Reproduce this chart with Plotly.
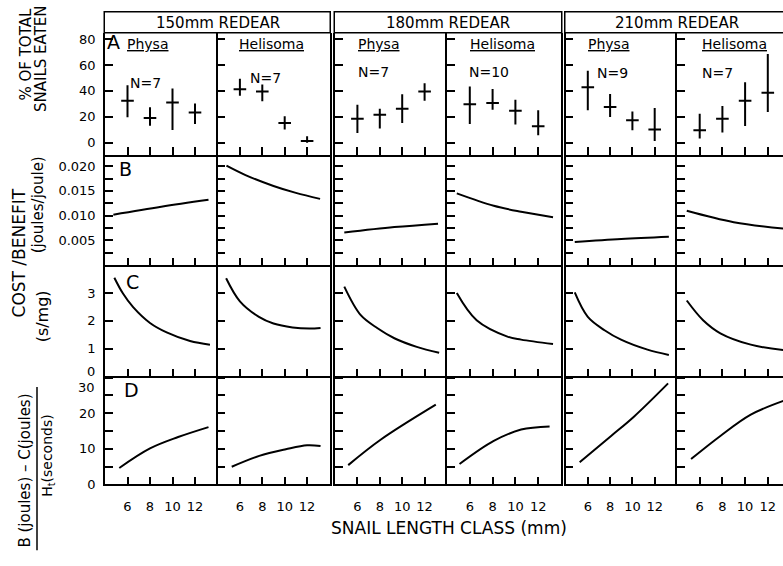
import plotly.graph_objects as go

# ---------------- data ----------------
size_ticks = [6, 8, 10, 12]
group_titles = ["150mm REDEAR", "180mm REDEAR", "210mm REDEAR"]
species_names = ["Physa", "Helisoma", "Physa", "Helisoma", "Physa", "Helisoma"]
n_labels = ["N=7", "N=7", "N=7", "N=10", "N=9", "N=7"]
panel_letters = ["A", "B", "C", "D"]

# Row A: % of total snails eaten (mean, upper, lower) at 6, 8, 10, 12 mm
eaten_x = [6, 8, 10, 12]
eaten_mean_physa150 = [32.4, 19.1, 31.1, 23.4]
eaten_hi_physa150 = [44.3, 27.3, 41.8, 30.3]
eaten_lo_physa150 = [19.6, 13.2, 9.9, 14.5]
eaten_mean_heli150 = [41.3, 39.5, 15.3, 1.3]
eaten_hi_heli150 = [49.4, 45.0, 20.4, 5.0]
eaten_lo_heli150 = [36.2, 32.0, 10.2, 0.0]
eaten_mean_physa180 = [18.6, 21.7, 26.2, 39.5]
eaten_hi_physa180 = [29.3, 26.2, 37.5, 45.9]
eaten_lo_physa180 = [7.6, 11.0, 15.3, 32.4]
eaten_mean_heli180 = [29.8, 30.6, 24.7, 12.7]
eaten_hi_heli180 = [43.3, 41.5, 33.1, 25.0]
eaten_lo_heli180 = [14.5, 25.5, 14.0, 5.9]
eaten_mean_physa210 = [42.8, 27.5, 17.3, 10.2]
eaten_hi_physa210 = [55.5, 37.7, 24.2, 26.8]
eaten_lo_physa210 = [25.0, 19.9, 9.7, 1.3]
eaten_mean_heli210 = [9.7, 18.6, 32.4, 38.5]
eaten_hi_heli210 = [22.4, 28.3, 46.6, 68.5]
eaten_lo_heli210 = [3.3, 7.9, 13.0, 23.7]

# Row B: cost/benefit (joules/joule)
cb_x_physa150 = [4.74, 9.0, 13.2]
cb_y_physa150 = [0.0102, 0.0118, 0.0132]
cb_x_heli150 = [4.8, 6.5, 9.0, 11.0, 13.16]
cb_y_heli150 = [0.0201, 0.0182, 0.0160, 0.0146, 0.0134]
cb_x_physa180 = [4.83, 9.3, 13.2]
cb_y_physa180 = [0.0066, 0.0077, 0.0084]
cb_x_heli180 = [4.86, 8.1, 10.5, 13.3]
cb_y_heli180 = [0.0145, 0.0120, 0.0108, 0.0097]
cb_x_physa210 = [4.83, 9.0, 13.27]
cb_y_physa210 = [0.0047, 0.0053, 0.00575]
cb_x_heli210 = [4.86, 9.0, 13.4]
cb_y_heli210 = [0.0110, 0.0087, 0.0074]

# Row C: cost (s/mg)
cost_x_physa150 = [4.83, 5.6, 6.5, 8.0, 9.48, 11.56, 13.33]
cost_y_physa150 = [3.55, 2.98, 2.49, 1.92, 1.58, 1.27, 1.14]
cost_x_heli150 = [4.77, 6.0, 7.7, 9.0, 10.7, 12.2, 13.2]
cost_y_heli150 = [3.53, 2.70, 2.14, 1.90, 1.76, 1.72, 1.74]
cost_x_physa180 = [4.83, 6.3, 7.8, 9.3, 11.3, 13.3]
cost_y_physa180 = [3.23, 2.20, 1.73, 1.37, 1.06, 0.85]
cost_x_heli180 = [4.86, 6.6, 9.3, 10.5, 13.3]
cost_y_heli180 = [3.00, 2.02, 1.43, 1.32, 1.16]
cost_x_physa210 = [4.83, 6.0, 7.5, 8.98, 11.35, 13.27]
cost_y_physa210 = [3.02, 2.14, 1.66, 1.32, 0.96, 0.77]
cost_x_heli210 = [4.86, 6.3, 7.82, 10.5, 13.4]
cost_y_heli210 = [2.73, 2.02, 1.55, 1.14, 0.94]

# Row D: (B - C) / Ht
net_x_physa150 = [5.27, 8.0, 10.5, 13.2]
net_y_physa150 = [4.6, 10.1, 13.3, 16.1]
net_x_heli150 = [5.27, 7.73, 10.1, 12.0, 13.2]
net_y_heli150 = [4.95, 8.0, 9.86, 11.0, 10.8]
net_x_physa180 = [5.18, 8.1, 13.0]
net_y_physa180 = [5.4, 12.6, 22.4]
net_x_heli180 = [5.1, 8.1, 10.5, 13.0]
net_y_heli180 = [5.7, 12.2, 15.4, 16.3]
net_x_physa210 = [5.27, 8.09, 10.16, 13.2]
net_y_physa210 = [6.2, 13.6, 19.1, 28.4]
net_x_heli210 = [5.24, 7.82, 10.5, 13.4]
net_y_heli210 = [7.1, 13.6, 19.6, 23.5]

eaten_panels = [
    (eaten_mean_physa150, eaten_hi_physa150, eaten_lo_physa150),
    (eaten_mean_heli150, eaten_hi_heli150, eaten_lo_heli150),
    (eaten_mean_physa180, eaten_hi_physa180, eaten_lo_physa180),
    (eaten_mean_heli180, eaten_hi_heli180, eaten_lo_heli180),
    (eaten_mean_physa210, eaten_hi_physa210, eaten_lo_physa210),
    (eaten_mean_heli210, eaten_hi_heli210, eaten_lo_heli210),
]
curve_rows = [
    [(cb_x_physa150, cb_y_physa150), (cb_x_heli150, cb_y_heli150),
     (cb_x_physa180, cb_y_physa180), (cb_x_heli180, cb_y_heli180),
     (cb_x_physa210, cb_y_physa210), (cb_x_heli210, cb_y_heli210)],
    [(cost_x_physa150, cost_y_physa150), (cost_x_heli150, cost_y_heli150),
     (cost_x_physa180, cost_y_physa180), (cost_x_heli180, cost_y_heli180),
     (cost_x_physa210, cost_y_physa210), (cost_x_heli210, cost_y_heli210)],
    [(net_x_physa150, net_y_physa150), (net_x_heli150, net_y_heli150),
     (net_x_physa180, net_y_physa180), (net_x_heli180, net_y_heli180),
     (net_x_physa210, net_y_physa210), (net_x_heli210, net_y_heli210)],
]

row_ranges = [[-9.6, 84.3], [0, 0.0222], [0, 4.0], [0, 30.4]]
row_tickvals = [
    [0, 20, 40, 60, 80],
    [0.0025, 0.005, 0.0075, 0.010, 0.0125, 0.015, 0.0175, 0.020],
    [0, 1, 2, 3],
    [0, 5, 10, 15, 20, 25, 30],
]
row_ticktext = [
    ["0", "20", "40", "60", "80"],
    ["", "0.005", "", "0.010", "", "0.015", "", "0.020"],
    ["", "1", "2", "3"],
    ["0", "", "10", "", "20", "", ""],
]

# ---------------- layout geometry (pixels) ----------------
W, H = 783, 566
FONT = "DejaVu Sans"
LW = 1.5
col_px = [(105, 217.5), (217.5, 329.5), (335, 447), (447, 561), (565.5, 677), (677, 783)]
row_px = [(32, 156), (156, 268), (268, 381), (381, 491)]
ymirror_cols = {1, 3}


def px(x):
    return x / W


def py(y):
    return 1 - y / H


fig = go.Figure()
layout = {}
for r in range(4):
    for c in range(6):
        k = r * 6 + c + 1
        sx = "" if k == 1 else str(k)
        x0, x1 = col_px[c]
        y0, y1 = row_px[r]
        xr = [4, 14] if c < 5 else [4, 4 + (783 - 677) / 11.35]
        layout["xaxis" + sx] = dict(
            domain=[px(x0), px(x1)], anchor="y" + sx, range=xr,
            tickvals=size_ticks, ticks="inside", ticklen=8, tickwidth=1.5,
            tickcolor="black", showline=True, linecolor="black", linewidth=LW,
            mirror=False, showgrid=False, zeroline=False,
            showticklabels=(r == 3), ticklabelstandoff=9,
            tickfont=dict(family=FONT, size=13, color="black"),
        )
        layout["yaxis" + sx] = dict(
            domain=[py(y1), py(y0)], anchor="x" + sx, range=row_ranges[r],
            tickvals=row_tickvals[r], ticktext=row_ticktext[r],
            ticks="inside", ticklen=8, tickwidth=1.5, tickcolor="black",
            showline=True, linecolor="black", linewidth=LW,
            mirror=(c in ymirror_cols), showgrid=False, zeroline=False,
            showticklabels=(c == 0), ticklabelstandoff=5,
            tickfont=dict(family=FONT, size=13, color="black"),
        )
        if r == 0:
            mean, hi, lo = eaten_panels[c]
            fig.add_trace(go.Scatter(
                x=eaten_x, y=mean, mode="markers", xaxis="x" + sx, yaxis="y" + sx,
                marker=dict(symbol="line-ew", size=9, color="black",
                            line=dict(width=2, color="black")),
                error_y=dict(type="data", symmetric=False,
                             array=[h - m for h, m in zip(hi, mean)],
                             arrayminus=[m - l for m, l in zip(mean, lo)],
                             width=0, thickness=2, color="black"),
                showlegend=False, hoverinfo="skip",
            ))
        else:
            cx, cy = curve_rows[r - 1][c]
            fig.add_trace(go.Scatter(
                x=cx, y=cy, mode="lines", xaxis="x" + sx, yaxis="y" + sx,
                line=dict(color="black", width=2, shape="spline", smoothing=1.0),
                showlegend=False, hoverinfo="skip",
            ))

annotations = []
shapes = []

# group header boxes
header_px = [(105 - LW / 2, 329.5 + LW / 2), (335 - LW / 2, 561 + LW / 2), (565.5 - LW / 2, 800)]
header_center = [218, 448, 677]
for (hx0, hx1), hc, title in zip(header_px, header_center, group_titles):
    shapes.append(dict(type="rect", xref="paper", yref="paper",
                       x0=px(hx0), x1=px(hx1), y0=py(32 - LW / 2), y1=py(10),
                       line=dict(color="black", width=LW)))
    annotations.append(dict(text=title, x=px(hc), y=py(21.5), xref="paper", yref="paper",
                            showarrow=False, xanchor="center", yanchor="middle",
                            font=dict(family=FONT, size=15, color="black")))

# species labels and N
species_left = [125, 237, 356, 468, 586, 700]
n_left = [128, 248, 356, 467, 595, 700]
n_y = [82, 77, 71, 71, 72, 72]
for c in range(6):
    annotations.append(dict(text="<u>" + species_names[c] + "</u>", x=px(species_left[c]), y=py(43),
                            xref="paper", yref="paper", showarrow=False,
                            xanchor="left", yanchor="middle",
                            font=dict(family=FONT, size=14, color="black")))
    annotations.append(dict(text=n_labels[c], x=px(n_left[c]), y=py(n_y[c]),
                            xref="paper", yref="paper", showarrow=False,
                            xanchor="left", yanchor="middle",
                            font=dict(family=FONT, size=14, color="black")))

# panel letters
letter_pos = [(105.5, 41), (117, 170.5), (124, 285.5), (122, 395)]
for (lx, ly), letter in zip(letter_pos, panel_letters):
    annotations.append(dict(text=letter, x=px(lx), y=py(ly), xref="paper", yref="paper",
                            showarrow=False, xanchor="left", yanchor="middle",
                            font=dict(family=FONT, size=19, color="black")))

# nudged end tick labels (as in the reference)
for txt, yy in [("0", 376), ("30", 392)]:
    annotations.append(dict(text=txt, x=px(97), y=py(yy), xref="paper", yref="paper",
                            showarrow=False, xanchor="right", yanchor="middle",
                            font=dict(family=FONT, size=13, color="black")))


# axis titles
def vtext(text, x, y, size):
    annotations.append(dict(text=text, x=px(x), y=py(y), xref="paper", yref="paper",
                            showarrow=False, xanchor="center", yanchor="middle",
                            textangle=-90, font=dict(family=FONT, size=size, color="black")))


vtext("% OF TOTAL", 26.5, 54, 15)
vtext("SNAILS EATEN", 41, 58, 15)
vtext("COST /BENEFIT", 19, 256, 17)
vtext("(joules/joule)", 38, 207, 15)
vtext("(s/mg)", 42, 320, 16)
vtext("B (joules) \u2013 C(joules)", 25, 477, 15)
vtext("H<sub>t</sub>(seconds)", 48, 462, 14)
shapes.append(dict(type="line", xref="paper", yref="paper",
                   x0=px(37), x1=px(37), y0=py(392), y1=py(558),
                   line=dict(color="black", width=1.5)))

annotations.append(dict(text="SNAIL LENGTH CLASS (mm)", x=px(449), y=py(535),
                        xref="paper", yref="paper", showarrow=False,
                        xanchor="center", yanchor="middle",
                        font=dict(family=FONT, size=17, color="black")))

fig.update_layout(
    **layout,
    width=W, height=H,
    margin=dict(l=0, r=0, t=0, b=0),
    paper_bgcolor="white", plot_bgcolor="white",
    showlegend=False,
    annotations=annotations, shapes=shapes,
    font=dict(family=FONT, color="black"),
)

fig.write_html("out.html", config={"displayModeBar": False},
               post_script="document.body.style.margin='0';")
